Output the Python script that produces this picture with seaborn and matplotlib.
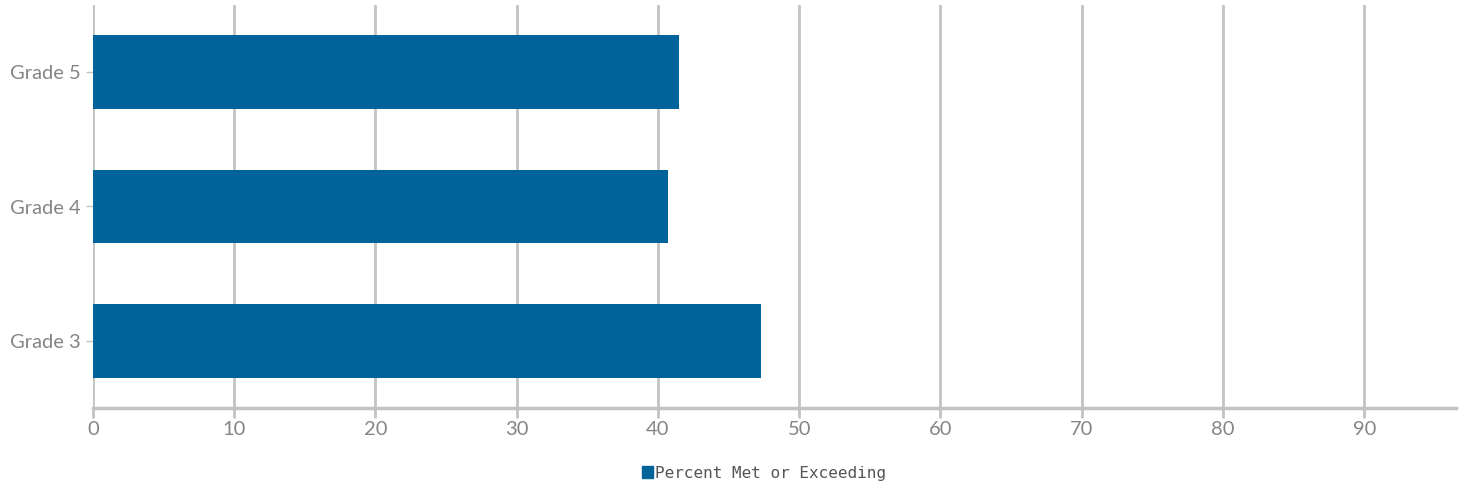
import matplotlib
matplotlib.use("Agg")
import matplotlib.pyplot as plt
from matplotlib.patches import Patch
import seaborn as sns
import pandas as pd

grades = ["Grade 5", "Grade 4", "Grade 3"]
percent_met = [41.5, 40.7, 47.3]
series_name = "Percent Met or Exceeding"
x_ticks = list(range(0, 100, 10))

bar_color = "#006399"
grid_color = "#c3c3c3"
text_color = "#858585"

sns.set_theme(style="white")
plt.rcParams["font.family"] = ["Lato", "DejaVu Sans"]

df = pd.DataFrame({"grade": grades, "value": percent_met})

fig = plt.figure(figsize=(14.68, 4.9), dpi=100)
ax = fig.add_axes([93 / 1468, 1 - 408 / 490, (1456 - 93) / 1468, (408 - 5) / 490])

sns.barplot(data=df, x="value", y="grade", orient="h", color=bar_color,
            saturation=1, width=0.55, linewidth=0, ax=ax)

ax.set_xlim(0, 96.5)
ax.set_ylim(2.5, -0.5)
ax.set_xticks(x_ticks)
ax.set_xlabel("")
ax.set_ylabel("")

ax.set_axisbelow(True)
ax.grid(axis="x", color=grid_color, linewidth=2)
ax.grid(axis="y", visible=False)

for side in ["top", "right", "left"]:
    ax.spines[side].set_visible(False)
ax.spines["bottom"].set_color(grid_color)
ax.spines["bottom"].set_linewidth(2.5)

ax.tick_params(axis="x", colors=grid_color, length=7, width=2, direction="out",
               bottom=True, labelsize=14.5, labelcolor=text_color, pad=2)
ax.tick_params(axis="y", colors=grid_color, length=5, width=1, left=True,
               labelsize=14.5, labelcolor=text_color, pad=4)

# legend sits a little right of centre, under the plot
handle = Patch(facecolor=bar_color, edgecolor=bar_color)
fig.legend([handle], [series_name], loc="center", bbox_to_anchor=(764 / 1468, 1 - 473 / 490),
           frameon=False, handlelength=0.7, handleheight=0.7, handletextpad=0.1,
           prop={"family": "DejaVu Sans Mono", "size": 11.5}, labelcolor="#555555")

fig.savefig("out.png", dpi=100)
